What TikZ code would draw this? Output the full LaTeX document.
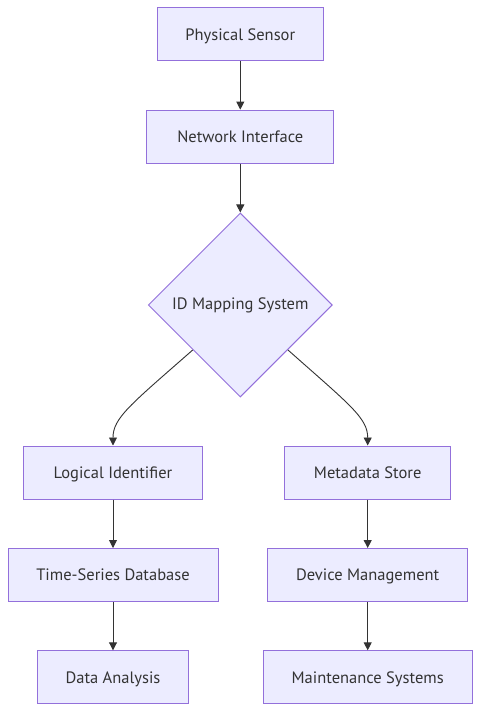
\documentclass[tikz,border=0pt]{standalone}
\usepackage{fontspec}
\setmainfont{PT Sans}
\usetikzlibrary{arrows.meta,shapes.geometric}
\definecolor{nodefill}{HTML}{ECECFF}
\definecolor{nodeline}{HTML}{9370DB}
\definecolor{txt}{HTML}{333333}
\definecolor{edge}{HTML}{333333}
\begin{document}
\begin{tikzpicture}[x=1pt,y=-1pt,
  box/.style={draw=nodeline,fill=nodefill,line width=1pt,text=txt,font=\fontsize{16.5}{19}\selectfont,inner sep=0pt,anchor=center,text depth=0pt},
  dia/.style={diamond,draw=nodeline,fill=nodefill,line width=1pt,text=txt,font=\fontsize{16.5}{19}\selectfont,inner sep=0pt,minimum width=184pt,minimum height=184pt,aspect=1},
  arr/.style={draw=edge,line width=0.9pt,-{Triangle[length=8pt,width=8pt]}}]
\useasboundingbox[fill=white] (0,0) rectangle (488,724);
\node[box,minimum width=166pt,minimum height=53pt] (ps) at (240.3,34.2) {Physical Sensor};
\node[box,minimum width=187pt,minimum height=53pt] (ni) at (240.3,136.6) {Network Interface};
\node[dia] (id) at (240.3,305) {ID Mapping System};
\node[box,minimum width=179pt,minimum height=53pt] (li) at (113,472.5) {Logical Identifier};
\node[box,minimum width=166pt,minimum height=53pt] (ms) at (367.7,472.5) {Metadata Store};
\node[box,minimum width=210pt,minimum height=53pt] (ts) at (113,575) {Time-Series Database};
\node[box,minimum width=200pt,minimum height=53pt] (dm) at (367.7,575) {Device Management};
\node[box,minimum width=151pt,minimum height=53pt] (da) at (113,677.3) {Data Analysis};
\node[box,minimum width=209pt,minimum height=53pt] (mt) at (367.7,677.3) {Maintenance Systems};
\draw[arr] (ps) -- (ni);
\draw[arr] (ni) -- (id);
\coordinate (l0) at (192.7,350);
\coordinate (r0) at (288,350);
\draw[arr] (l0) .. controls (130,405) and (113,418) .. (li.north);
\draw[arr] (r0) .. controls (350,405) and (367.7,418) .. (ms.north);
\draw[arr] (li) -- (ts);
\draw[arr] (ts) -- (da);
\draw[arr] (ms) -- (dm);
\draw[arr] (dm) -- (mt);
\end{tikzpicture}
\end{document}
